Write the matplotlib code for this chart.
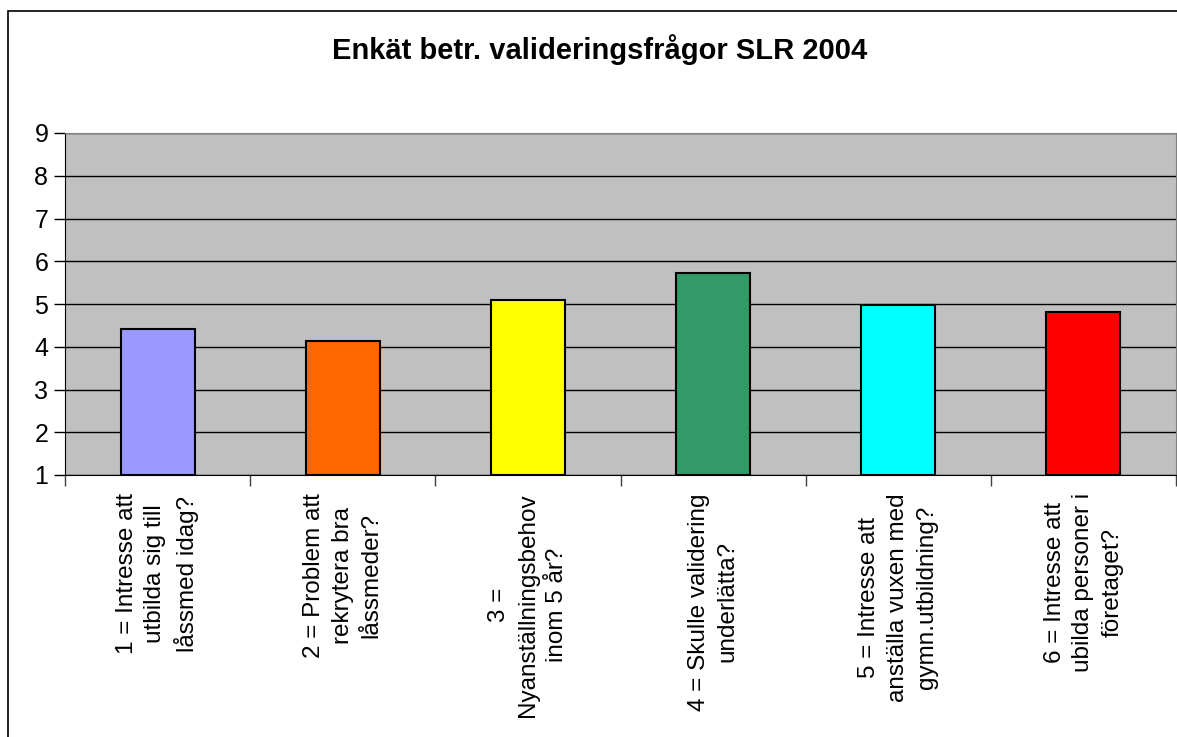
import matplotlib
matplotlib.use("Agg")
import matplotlib.pyplot as plt
from matplotlib.patches import Rectangle

plt.rcParams['font.family'] = ['Liberation Sans', 'DejaVu Sans']

# survey questions and mean answers
questions = [
    "1 = Intresse att\nutbilda sig till\nlåssmed idag?",
    "2 = Problem att\nrekrytera bra\nlåssmeder?",
    "3 =\nNyanställningsbehov\ninom 5 år?",
    "4 = Skulle validering\nunderlätta?",
    "5 = Intresse att\nanställa vuxen med\ngymn.utbildning?",
    "6 = Intresse att\nubilda personer i\nföretaget?",
]
scores = [4.42, 4.14, 5.10, 5.73, 4.97, 4.82]
bar_colors = ["#9999FF", "#FF6600", "#FFFF00", "#339966", "#00FFFF", "#FF0000"]
y_ticks = [1, 2, 3, 4, 5, 6, 7, 8, 9]

W, H = 1177, 737
fig = plt.figure(figsize=(W / 100, H / 100), dpi=100)
ax = fig.add_axes([65 / W, 1 - 475 / H, (1176 - 65) / W, (475 - 133) / H])

x = list(range(len(questions)))
ax.bar(x, [s - 1 for s in scores], bottom=1, width=0.4, color=bar_colors,
       edgecolor="black", linewidth=1.5, zorder=3)

ax.set_facecolor("#C0C0C0")
ax.set_ylim(1, 9)
ax.set_xlim(-0.5, len(questions) - 0.5)
ax.set_yticks(y_ticks)
ax.yaxis.grid(True, color="black", linewidth=1)
ax.set_axisbelow(True)
ax.tick_params(axis="y", labelsize=18, length=8, width=1, direction="out", pad=4)

# labels at bar centres, tick marks between categories
ax.set_xticks(x)
ax.set_xticklabels(questions, rotation=90, fontsize=17.5, ha="center", va="top",
                   linespacing=1.4)
ax.tick_params(axis="x", which="major", length=0, pad=13)
ax.set_xticks([i - 0.5 for i in range(len(questions) + 1)], minor=True)
ax.tick_params(axis="x", which="minor", length=8, width=1, direction="out",
               color="#404040")

for side in ["left", "bottom"]:
    ax.spines[side].set_color("black")
for side in ["top", "right"]:
    ax.spines[side].set_color("#808080")

fig.text(600 / W, 1 - 50 / H, "Enkät betr. valideringsfrågor SLR 2004",
         ha="center", va="center", fontsize=21, fontweight="bold")

# chart frame (only left and top edges are visible in the image)
fig.add_artist(Rectangle((8 / W, -0.2), 1.3, 1.2 - 11 / H, transform=fig.transFigure,
                         fill=False, edgecolor="black", linewidth=1.2))

fig.savefig("out.png", dpi=100)
